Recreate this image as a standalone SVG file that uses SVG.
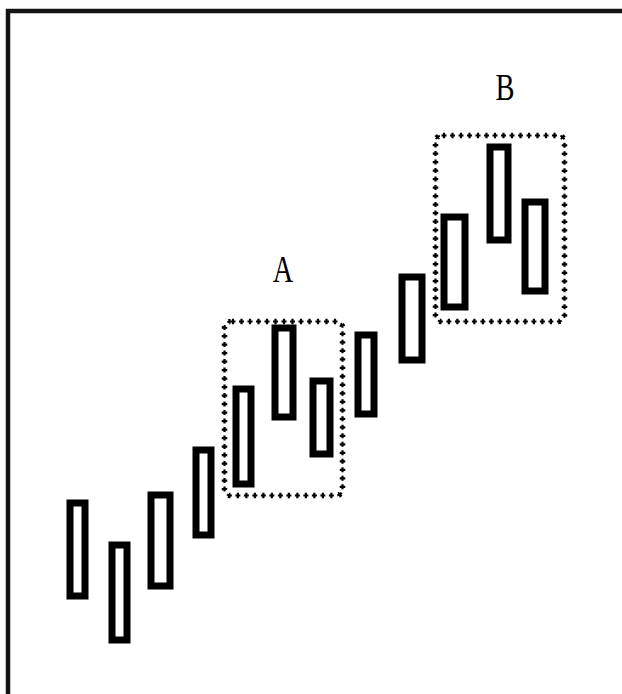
<svg xmlns="http://www.w3.org/2000/svg" width="622" height="694" viewBox="0 0 622 694">
<style>
.frame{fill:none;stroke:#141414;stroke-width:4.5}
.candle{fill:#fff;stroke:#000;stroke-width:7}
.dotv{fill:none;stroke:#000;stroke-width:5.5;stroke-dasharray:2.2 6.3;stroke-dashoffset:-1.4}
.doth{fill:none;stroke:#000;stroke-width:2.2;stroke-dasharray:5 3.5}
.lbl{font-family:"Liberation Serif",serif;font-size:38px;fill:#000;text-anchor:middle}
</style>
<rect width="622" height="694" fill="#fff"/>
<path class="frame" d="M8 694V11H622"/>
<g id="candles">
<rect id="c1" class="candle" x="70" y="503" width="15" height="93"/>
<rect id="c2" class="candle" x="112" y="545" width="15" height="95"/>
<rect id="c3" class="candle" x="151" y="495" width="19" height="91"/>
<rect id="c4" class="candle" x="196" y="450" width="15" height="85"/>
<rect id="a1" class="candle" x="236" y="389" width="15" height="95"/>
<rect id="a2" class="candle" x="275" y="328" width="18" height="89"/>
<rect id="a3" class="candle" x="313" y="381" width="17" height="73"/>
<rect id="c5" class="candle" x="358" y="335" width="16" height="79"/>
<rect id="c6" class="candle" x="402" y="277" width="20" height="83"/>
<rect id="b1" class="candle" x="444" y="217" width="21" height="90"/>
<rect id="b2" class="candle" x="490" y="147" width="18" height="93"/>
<rect id="b3" class="candle" x="525" y="202" width="20" height="89"/>
</g>
<g id="groupA">
<rect class="doth" x="224.5" y="321.5" width="118" height="174" rx="6"/>
<rect class="dotv" x="224.5" y="321.5" width="118" height="174" rx="6"/>
<text class="lbl" transform="translate(283 282) scale(0.75 1)">A</text>
</g>
<g id="groupB">
<rect class="doth" x="435.5" y="135.5" width="129" height="186" rx="6"/>
<rect class="dotv" x="435.5" y="135.5" width="129" height="186" rx="6"/>
<text class="lbl" transform="translate(505 100) scale(0.75 1)">B</text>
</g>
</svg>
